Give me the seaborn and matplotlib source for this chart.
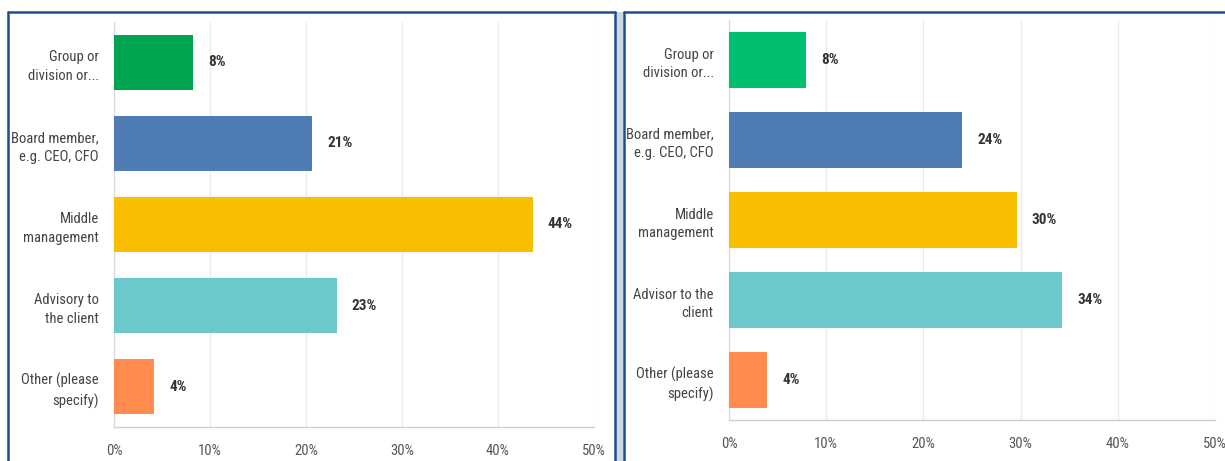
import matplotlib
matplotlib.use("Agg")
import matplotlib.pyplot as plt
import seaborn as sns
import pandas as pd
from matplotlib.patches import Rectangle
from matplotlib.lines import Line2D

# Survey responses: role of the respondent (share of answers, %)
left_categories = ["Group or\ndivision or...", "Board member,\ne.g. CEO, CFO",
                   "Middle\nmanagement", "Advisory to\nthe client", "Other (please\nspecify)"]
left_values = [8.2, 20.6, 43.6, 23.2, 4.2]
left_colors = ["#00A551", "#507CB5", "#F9BE00", "#6BC8CD", "#FF8B4F"]

right_categories = ["Group or\ndivision or...", "Board member,\ne.g. CEO, CFO",
                    "Middle\nmanagement", "Advisor to the\nclient", "Other (please\nspecify)"]
right_values = [7.9, 24.0, 29.6, 34.3, 3.9]
right_colors = ["#00BF6F", "#507CB5", "#F9BE00", "#6BC8CD", "#FF8B4F"]

x_ticks = [0, 10, 20, 30, 40, 50]
x_tick_labels = ["0%", "10%", "20%", "30%", "40%", "50%"]

sns.set_theme(style="white")
plt.rcParams["font.family"] = ["Roboto Condensed", "DejaVu Sans"]
plt.rcParams["font.stretch"] = "condensed"

W, H = 1225, 461
fig = plt.figure(figsize=(W / 100, H / 100), dpi=100)
fig.patch.set_facecolor("white")


def px_axes(x0, y0, x1, y1):
    return fig.add_axes([x0 / W, 1 - y1 / H, (x1 - x0) / W, (y1 - y0) / H])


def draw_panel(ax, cats, vals, colors):
    df = pd.DataFrame({"category": cats, "value": vals})
    sns.barplot(data=df, x="value", y="category", hue="category",
                palette=colors, legend=False, orient="h", width=0.69,
                ax=ax, saturation=1, edgecolor="none", zorder=3)
    ax.set_xlim(0, 50)
    ax.set_ylim(4.5, -0.5)
    ax.set_xticks(x_ticks)
    ax.set_xticklabels(x_tick_labels)
    ax.set_xlabel("")
    ax.set_ylabel("")
    ax.grid(axis="x", color="#ebebeb", linewidth=1, zorder=0)
    ax.grid(axis="y", visible=False)
    for side in ("top", "right"):
        ax.spines[side].set_visible(False)
    ax.spines["left"].set_color("#dddddd")
    ax.spines["bottom"].set_color("#d0d0d0")
    ax.spines["left"].set_linewidth(1)
    ax.spines["bottom"].set_linewidth(1)
    ax.tick_params(axis="x", length=0, pad=12, labelsize=10.5, labelcolor="#555555")
    ax.tick_params(axis="y", length=0, pad=11, labelsize=10.5, labelcolor="#444444")
    for lab in ax.get_yticklabels():
        lab.set_horizontalalignment("right")
        lab.set_linespacing(1.45)
    for i, v in enumerate(vals):
        ax.annotate(f"{v:.0f}%", xy=(v, i), xytext=(11, 0), textcoords="offset points",
                    ha="left", va="center", fontsize=11, fontweight="bold",
                    color="#333333")


ax_left = px_axes(114, 22, 594, 427)
draw_panel(ax_left, left_categories, left_values, left_colors)

ax_right = px_axes(729, 20, 1215, 420)
draw_panel(ax_right, right_categories, right_values, right_colors)

# panel frames and the narrow strip between them
border = "#1F4E8C"
fig.add_artist(Rectangle((616 / W, 0), 7 / W, 1 - 12 / H, transform=fig.transFigure,
                         facecolor="#cdd6e2", edgecolor="none", zorder=-1))
fig.add_artist(Line2D([8 / W, 8 / W], [0, 1 - 12 / H], transform=fig.transFigure,
                      color=border, linewidth=1.8))
fig.add_artist(Line2D([615 / W, 615 / W], [0, 1 - 12 / H], transform=fig.transFigure,
                      color=border, linewidth=1.8))
fig.add_artist(Line2D([8 / W, 615 / W], [1 - 12 / H, 1 - 12 / H], transform=fig.transFigure,
                      color=border, linewidth=1.8))
fig.add_artist(Line2D([624 / W, 624 / W], [0, 1 - 12 / H], transform=fig.transFigure,
                      color=border, linewidth=1.8))
fig.add_artist(Line2D([624 / W, 1], [1 - 12 / H, 1 - 12 / H], transform=fig.transFigure,
                      color=border, linewidth=1.8))

fig.savefig("out.png", dpi=100, facecolor="white")
